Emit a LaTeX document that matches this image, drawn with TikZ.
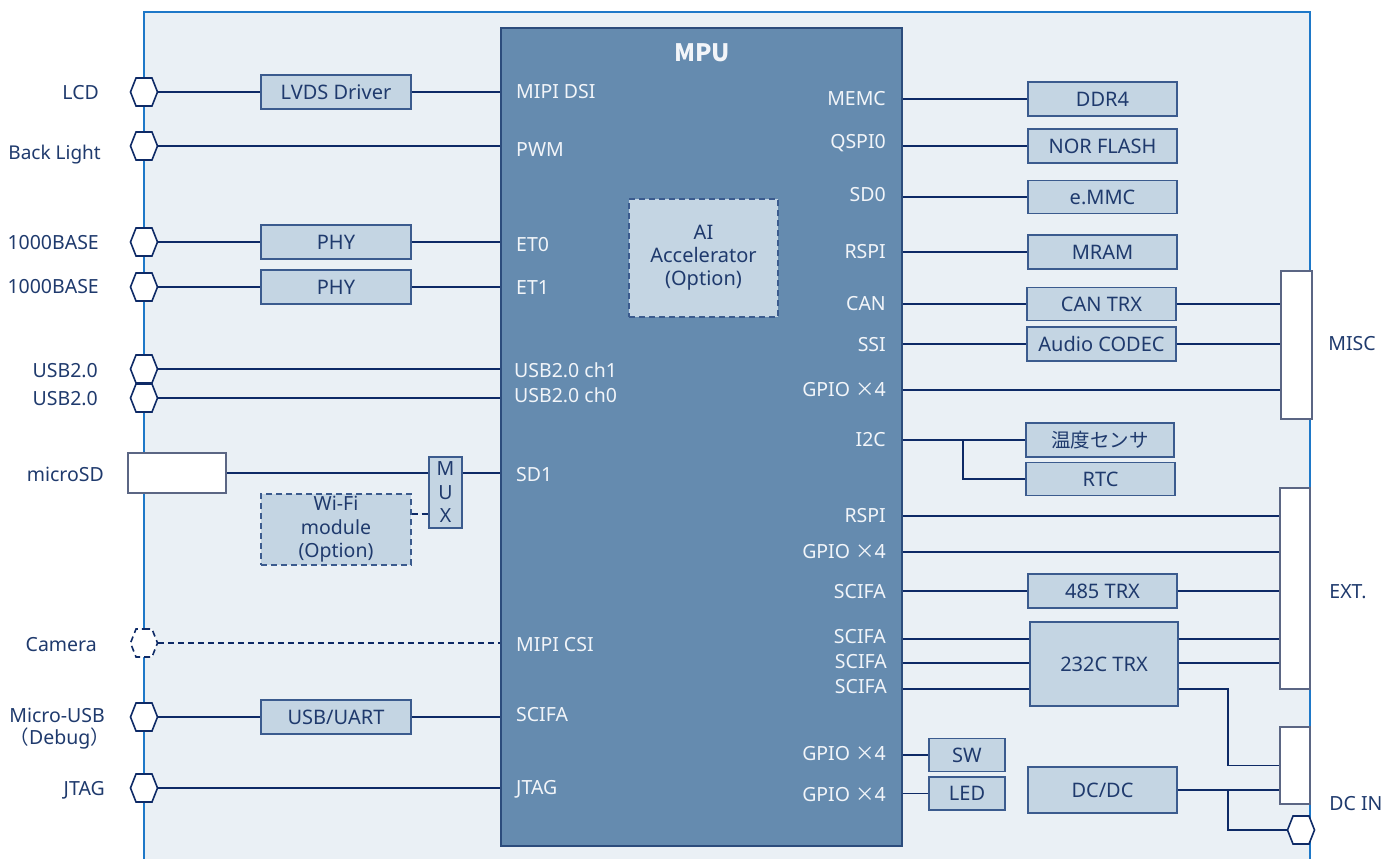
\documentclass[tikz,border=0pt]{standalone}
\usepackage{fontspec}
\setmainfont{Noto Sans}
\newfontfamily\jpfont{Noto Sans CJK JP}
\usetikzlibrary{shapes.symbols,calc}
\definecolor{boardfill}{HTML}{EAF0F5}
\definecolor{boardline}{HTML}{1E78C8}
\definecolor{mpufill}{HTML}{658BAF}
\definecolor{mpuline}{HTML}{2C4C7C}
\definecolor{boxfill}{HTML}{C4D5E3}
\definecolor{boxline}{HTML}{3B5B8E}
\definecolor{wirec}{HTML}{0E2A66}
\definecolor{txt}{HTML}{1F3A6D}
\definecolor{wline}{HTML}{5B6684}
\definecolor{ptxt}{HTML}{F2F5F9}
\newcommand\gpx{GPIO {\jpfont ×}4}
\tikzset{
  every node/.style={font=\fontsize{19.5}{22}\selectfont, text=txt, inner sep=0pt},
  wire/.style={draw=wirec, line width=1.9pt},
  hexa/.style={signal, signal to=west and east, signal pointer angle=137,
    minimum width=27pt, minimum height=28pt, inner sep=0pt, draw=wirec, fill=white, line width=1.6pt},
  lbox/.style={draw=boxline, fill=boxfill, line width=1.3pt, minimum width=150pt, minimum height=34pt, align=center, font=\fontsize{20}{22}\selectfont},
  wbox/.style={draw=wline, fill=white, line width=1.6pt},
  plabel/.style={text=ptxt},
  dsh/.style={dash pattern=on 6pt off 4pt},
}
\begin{document}
\begin{tikzpicture}[x=1pt,y=-1pt]
\useasboundingbox (0,0) rectangle (1381,859);
\fill[boardfill] (144,12) rectangle (1310,880);
\draw[boardline, line width=1.6pt] (144,880) -- (144,12) -- (1310,12) -- (1310,880);

% MPU
\node[draw=mpuline, fill=mpufill, line width=1.3pt, minimum width=401pt, minimum height=818pt] (mpu) at (701.5,437) {};
\node[text=ptxt, font=\fontsize{24}{28}\selectfont\jpfont\bfseries] (mputitle) at (702,53) {MPU};
\node[lbox, dsh, minimum width=149pt, minimum height=118pt, font=\fontsize{20}{23}\selectfont] (ai) at (703.5,258) {AI\\Accelerator\\(Option)};

% left connectors
\node[hexa] (hlcd) at (144,92) {};
\node[anchor=east] (tlcd) at (99,93) {LCD};
\node[lbox] (lvds) at (336,92) {LVDS Driver};
\node[plabel, anchor=west] (pdsi) at (516,92) {MIPI DSI};
\draw[wire] (hlcd) -- (lvds) -- (lvds -| mpu.west);

\node[hexa] (hbl) at (144,146) {};
\node[anchor=east, font=\fontsize{19}{22}\selectfont] (tbl) at (101,155) {Back Light};
\node[plabel, anchor=west] (ppwm) at (516,150) {PWM};
\draw[wire] (hbl) -- (hbl -| mpu.west);

\node[hexa] (het0) at (144,242) {};
\node[anchor=east] (tet0) at (99,243) {1000BASE};
\node[lbox] (phy0) at (336,242) {PHY};
\node[plabel, anchor=west] (pet0) at (516,245) {ET0};
\draw[wire] (het0) -- (phy0) -- (phy0 -| mpu.west);

\node[hexa] (het1) at (144,287) {};
\node[anchor=east] (tet1) at (99,287) {1000BASE};
\node[lbox] (phy1) at (336,287) {PHY};
\node[plabel, anchor=west] (pet1) at (516,288) {ET1};
\draw[wire] (het1) -- (phy1) -- (phy1 -| mpu.west);

\node[hexa] (hu1) at (144,369) {};
\node[anchor=east] (tu1) at (98,371) {USB2.0};
\node[plabel, anchor=west] (pu1) at (514,370) {USB2.0 ch1};
\draw[wire] (hu1) -- (hu1 -| mpu.west);

\node[hexa] (hu0) at (144,398) {};
\node[anchor=east] (tu0) at (98,399) {USB2.0};
\node[plabel, anchor=west] (pu0) at (514,395) {USB2.0 ch0};
\draw[wire] (hu0) -- (hu0 -| mpu.west);

\node[wbox, minimum width=98pt, minimum height=40pt] (msd) at (177,473) {};
\node[anchor=east] (tmsd) at (104,474) {microSD};
\node[lbox, minimum width=33pt, minimum height=71pt, font=\fontsize{19.5}{23.5}\selectfont] (mux) at (445.5,492.5) {M\\U\\X};
\node[plabel, anchor=west] (psd1) at (516,475) {SD1};
\draw[wire] (msd) -- (msd -| mux.west);
\draw[wire] (msd -| mux.east) -- (msd -| mpu.west);
\node[lbox, dsh, minimum width=150pt, minimum height=71pt, font=\fontsize{19.5}{23.5}\selectfont] (wifi) at (336,529.5) {Wi-Fi\\module\\(Option)};
\coordinate (mx) at ([yshift=15pt]mux.south west);
\draw[wire, dsh] (wifi.east |- mx) -- (mx);

\node[hexa, dsh] (hcam) at (144,643) {};
\node[anchor=east] (tcam) at (97,645) {Camera};
\node[plabel, anchor=west] (pcsi) at (516,645) {MIPI CSI};
\draw[wire, dsh] (hcam) -- (hcam -| mpu.west);

\node[hexa] (hmu) at (144,717) {};
\node[anchor=east] (tmu) at (105,715) {Micro-USB};
\node[anchor=east] (tdbg) at (110,738) {{\jpfont （}Debug{\jpfont ）}};
\node[lbox] (uart) at (336,717) {USB/UART};
\node[plabel, anchor=west] (psc) at (516,715) {SCIFA};
\draw[wire] (hmu) -- (uart) -- (uart -| mpu.west);

\node[hexa] (hjt) at (144,788) {};
\node[anchor=east] (tjt) at (105,790) {JTAG};
\node[plabel, anchor=west] (pjt) at (516,789) {JTAG};
\draw[wire] (hjt) -- (hjt -| mpu.west);

% right side
\node[plabel, anchor=east] (rmemc) at (886,99) {MEMC};
\node[lbox, minimum width=149pt] (ddr) at (1102.5,99) {DDR4};
\draw[wire] (ddr -| mpu.east) -- (ddr);

\node[plabel, anchor=east] (rqspi) at (886,143) {QSPI0};
\node[lbox, minimum width=149pt] (nor) at (1102.5,146) {NOR FLASH};
\draw[wire] (nor -| mpu.east) -- (nor);

\node[plabel, anchor=east] (rsd0) at (886,195) {SD0};
\node[lbox, minimum width=149pt, minimum height=33pt] (emmc) at (1102.5,197) {e.MMC};
\draw[wire] (emmc -| mpu.east) -- (emmc);

\node[plabel, anchor=east] (rrspi) at (886,252) {RSPI};
\node[lbox, minimum width=149pt] (mram) at (1102.5,252) {MRAM};
\draw[wire] (mram -| mpu.east) -- (mram);

\node[wbox, minimum width=31pt, minimum height=148pt] (misc) at (1296.5,345) {};
\node (tmisc) at (1352,344) {MISC};

\node[plabel, anchor=east] (rcan) at (886,304) {CAN};
\node[lbox, minimum width=149pt, minimum height=33pt] (can) at (1101.5,304) {CAN TRX};
\draw[wire] (can -| mpu.east) -- (can) -- (can -| misc.west);

\node[plabel, anchor=east] (rssi) at (886,345) {SSI};
\node[lbox, minimum width=149pt] (audio) at (1101.5,344) {Audio CODEC};
\draw[wire] (audio -| mpu.east) -- (audio) -- (audio -| misc.west);

\node[plabel, anchor=east] (rg1) at (886,390) {\gpx};
\draw[wire] (rg1 -| mpu.east) -- (rg1 -| misc.west);

\node[plabel, anchor=east] (ri2c) at (886,440) {I2C};
\node[lbox, minimum width=148pt, font=\fontsize{19.5}{22}\selectfont\jpfont] (temp) at (1100,440) {温度センサ};
\node[lbox, minimum width=149pt, minimum height=33pt] (rtc) at (1100.5,479) {RTC};
\draw[wire] (temp -| mpu.east) -- (temp);
\coordinate (br) at ($(temp -| mpu.east)!0.49!(temp.west)$);
\draw[wire] (br) |- (rtc.west);

\node[wbox, minimum width=30pt, minimum height=201pt] (ext) at (1295,588.5) {};
\node (text) at (1348,592) {EXT.};

\node[plabel, anchor=east] (rrspi2) at (886,516) {RSPI};
\draw[wire] (rrspi2 -| mpu.east) -- (rrspi2 -| ext.west);
\node[plabel, anchor=east] (rg2) at (886,552) {\gpx};
\draw[wire] (rg2 -| mpu.east) -- (rg2 -| ext.west);

\node[plabel, anchor=east] (rs0) at (886,592) {SCIFA};
\node[lbox, minimum width=149pt] (t485) at (1102.5,591) {485 TRX};
\draw[wire] (t485 -| mpu.east) -- (t485) -- (t485 -| ext.west);

\node[lbox, minimum width=148pt, minimum height=84pt] (t232) at (1104,664) {232C TRX};
\node[plabel, anchor=east] (rs1) at (886,637) {SCIFA};
\node[plabel, anchor=east] (rs2) at (887,662) {SCIFA};
\node[plabel, anchor=east] (rs3) at (887,687) {SCIFA};
\coordinate (l1) at ([yshift=25pt]t232.west);
\coordinate (l2) at ([yshift=1pt]t232.west);
\coordinate (l3) at ([yshift=-25pt]t232.west);
\draw[wire] (l1 -| mpu.east) -- (l1);
\draw[wire] (l2 -| mpu.east) -- (l2);
\draw[wire] (l3 -| mpu.east) -- (l3);
\draw[wire] (l1 -| t232.east) -- (l1 -| ext.west);
\draw[wire] (l2 -| t232.east) -- (l2 -| ext.west);

\node[wbox, minimum width=30pt, minimum height=77pt] (dcin) at (1295,765.5) {};
\node (tdcin) at (1356,804) {DC IN};
\node[hexa] (hdc) at (1301,830) {};
\node[lbox, minimum width=149pt, minimum height=46pt] (dcdc) at (1102.5,790) {DC/DC};
\coordinate (jx) at ($(dcdc.east)!0.5!(dcdc.east -| dcin.west)$);
\draw[wire] (dcdc) -- (dcdc -| dcin.west);
\draw[wire] (l3 -| t232.east) -- (l3 -| jx) |- (dcin.west);
\draw[wire] (jx) |- (hdc);

\node[plabel, anchor=east] (rg3) at (886,754) {\gpx};
\node[lbox, minimum width=76pt, minimum height=33pt] (sw) at (967,755) {SW};
\draw[wire] (sw -| mpu.east) -- (sw);
\node[plabel, anchor=east] (rg4) at (886,795) {\gpx};
\node[lbox, minimum width=76pt, minimum height=33pt] (led) at (967,793.5) {LED};
\draw[wire] (led -| mpu.east) -- (led);
\end{tikzpicture}
\end{document}
